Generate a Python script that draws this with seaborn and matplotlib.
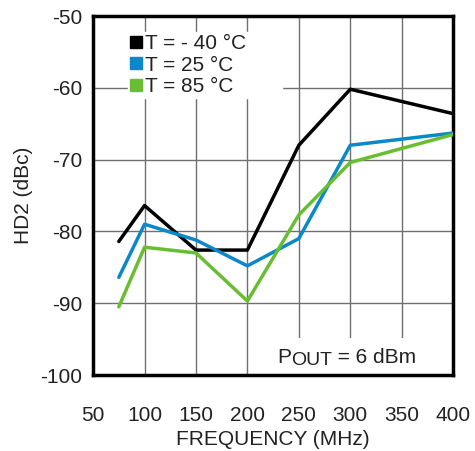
import numpy as np
import pandas as pd
import matplotlib
matplotlib.use("Agg")
import matplotlib.pyplot as plt
import matplotlib.patches as mpatches
import seaborn as sns
from matplotlib.lines import Line2D

freq = [75, 100, 150, 200, 250, 300, 400]
hd2_m40 = [-81.4, -76.4, -82.6, -82.6, -68.0, -60.2, -63.6]
hd2_25 = [-86.4, -79.0, -81.2, -84.8, -81.0, -68.0, -66.3]
hd2_85 = [-90.5, -82.2, -83.0, -89.7, -77.7, -70.4, -66.5]

labels = ["T = - 40 °C", "T = 25 °C", "T = 85 °C"]
colors = ["#000000", "#0A88C8", "#68BE30"]

x_ticks = [50, 100, 150, 200, 250, 300, 350, 400]
y_ticks = [-100, -90, -80, -70, -60, -50]

df = pd.DataFrame({
    "freq": freq * 3,
    "hd2": hd2_m40 + hd2_25 + hd2_85,
    "temp": [labels[0]] * 7 + [labels[1]] * 7 + [labels[2]] * 7,
})

sns.set_style("white")
plt.rcParams["font.family"] = ["Liberation Sans", "DejaVu Sans"]
plt.rcParams["axes.unicode_minus"] = False

fig = plt.figure(figsize=(4.75, 4.51), dpi=100)
ax = fig.add_axes([0.196, 0.1685, 0.758, 0.796])

sns.lineplot(data=df, x="freq", y="hd2", hue="temp", palette=colors,
             linewidth=2.5, ax=ax, legend=False, zorder=3)

ax.set_xlim(50, 400)
ax.set_ylim(-100, -50)
ax.set_xticks(x_ticks)
ax.set_yticks(y_ticks)
ax.tick_params(axis="x", labelsize=15, length=0, pad=22, colors="#222222")
ax.tick_params(axis="y", labelsize=15, length=0, pad=8, colors="#222222")
ax.grid(True, color="#707070", linewidth=1.0)
ax.set_axisbelow(True)
for s in ax.spines.values():
    s.set_visible(True)
    s.set_color("black")
    s.set_linewidth(2.5)

ax.set_xlabel("FREQUENCY (MHz)", fontsize=15, color="#222222", labelpad=4)
ax.set_ylabel("HD2 (dBc)", fontsize=15, color="#222222", labelpad=5)

# legend with square markers
handles = [Line2D([], [], marker="s", linestyle="none", color=c,
                  markersize=9) for c in colors]
leg = ax.legend(handles, labels, loc="upper left",
                bbox_to_anchor=(0.097, 0.0, 0.428, 0.955), mode="expand",
                fontsize=15, frameon=True, framealpha=1, edgecolor="white",
                facecolor="white", handlelength=0.6, handletextpad=0.1,
                labelspacing=0.12, borderpad=0.1, borderaxespad=0,
                fancybox=False)
for t in leg.get_texts():
    t.set_color("#222222")

# P_OUT annotation on a white patch that hides the grid
ax.add_patch(mpatches.Rectangle((0.497, 0.0), 0.48, 0.103, transform=ax.transAxes,
                                facecolor="white", edgecolor="none", zorder=2.5))
p = ax.text(0.512, 0.033, "P", transform=ax.transAxes, fontsize=15,
            color="#222222", ha="left", va="baseline", zorder=5)
o = ax.annotate("OUT", xy=(1, 0), xycoords=p, xytext=(0, -1.5),
                textcoords="offset points", fontsize=14, color="#222222",
                ha="left", va="bottom", zorder=5)
ax.annotate(" = 6 dBm", xy=(1, 0), xycoords=o, xytext=(0, 1.5),
            textcoords="offset points", fontsize=15, color="#222222",
            ha="left", va="bottom", zorder=5)

fig.savefig("out.png", dpi=100)
